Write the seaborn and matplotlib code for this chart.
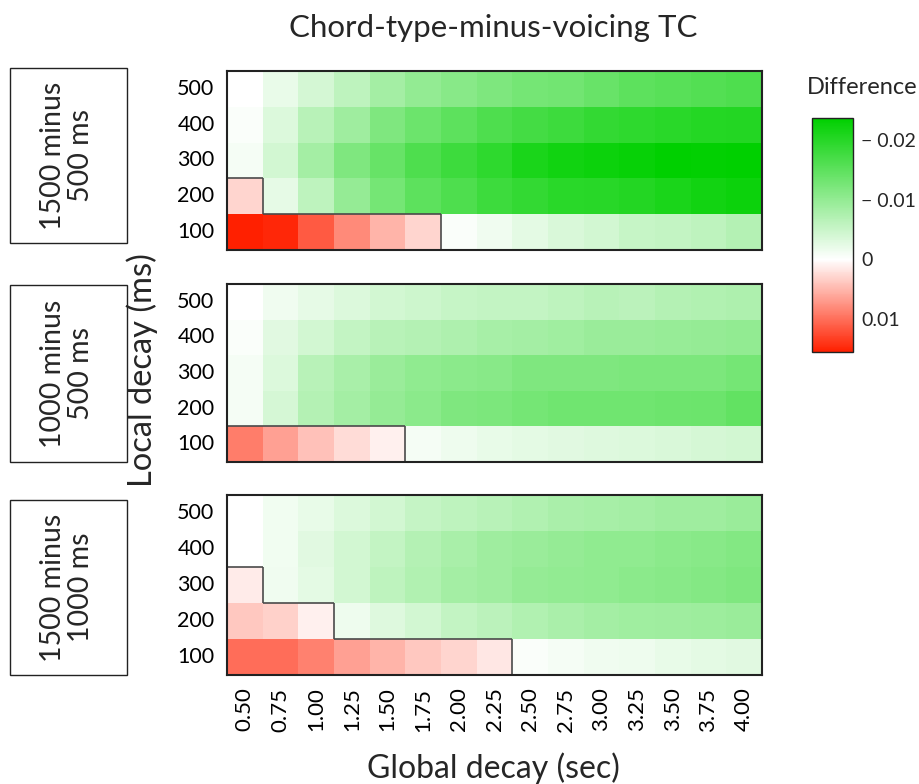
import numpy as np
import pandas as pd
import seaborn as sns
import matplotlib.pyplot as plt
from matplotlib.colors import LinearSegmentedColormap
from matplotlib.patches import Rectangle

# ---------------- data ----------------
global_decay = ["0.50", "0.75", "1.00", "1.25", "1.50", "1.75", "2.00", "2.25",
                "2.50", "2.75", "3.00", "3.25", "3.50", "3.75", "4.00"]
local_decay = [500, 400, 300, 200, 100]  # top to bottom

panel_labels = ["1500 minus\n500 ms", "1000 minus\n500 ms", "1500 minus\n1000 ms"]

diff_1500_500 = [
    [-0.0001, -0.0020, -0.0040, -0.0060, -0.0085, -0.0100, -0.0110, -0.0120, -0.0127, -0.0130, -0.0140, -0.0150, -0.0155, -0.0160, -0.0165],
    [-0.0005, -0.0033, -0.0066, -0.0090, -0.0118, -0.0136, -0.0150, -0.0165, -0.0174, -0.0180, -0.0188, -0.0193, -0.0198, -0.0202, -0.0204],
    [-0.0010, -0.0042, -0.0085, -0.0118, -0.0141, -0.0165, -0.0179, -0.0193, -0.0212, -0.0221, -0.0226, -0.0230, -0.0240, -0.0235, -0.0240],
    [0.0028, -0.0024, -0.0060, -0.0099, -0.0127, -0.0150, -0.0165, -0.0179, -0.0188, -0.0198, -0.0200, -0.0204, -0.0212, -0.0220, -0.0226],
    [0.0155, 0.0149, 0.0115, 0.0080, 0.0052, 0.0028, -0.0005, -0.0014, -0.0025, -0.0035, -0.0042, -0.0052, -0.0056, -0.0060, -0.0070],
]
diff_1000_500 = [
    [-0.0001, -0.0014, -0.0024, -0.0033, -0.0042, -0.0047, -0.0052, -0.0056, -0.0056, -0.0060, -0.0066, -0.0063, -0.0070, -0.0072, -0.0075],
    [-0.0005, -0.0028, -0.0042, -0.0056, -0.0066, -0.0070, -0.0075, -0.0082, -0.0085, -0.0088, -0.0094, -0.0094, -0.0097, -0.0099, -0.0101],
    [-0.0010, -0.0033, -0.0066, -0.0080, -0.0094, -0.0103, -0.0108, -0.0110, -0.0118, -0.0118, -0.0118, -0.0122, -0.0122, -0.0122, -0.0127],
    [-0.0010, -0.0038, -0.0070, -0.0085, -0.0099, -0.0108, -0.0118, -0.0122, -0.0127, -0.0132, -0.0132, -0.0132, -0.0135, -0.0136, -0.0146],
    [0.0090, 0.0066, 0.0042, 0.0024, 0.0010, -0.0010, -0.0016, -0.0022, -0.0025, -0.0028, -0.0031, -0.0033, -0.0035, -0.0038, -0.0042],
]
diff_1500_1000 = [
    [-0.0001, -0.0012, -0.0022, -0.0033, -0.0042, -0.0054, -0.0060, -0.0066, -0.0072, -0.0078, -0.0082, -0.0085, -0.0089, -0.0089, -0.0094],
    [-0.0001, -0.0012, -0.0028, -0.0042, -0.0056, -0.0070, -0.0080, -0.0089, -0.0094, -0.0099, -0.0103, -0.0103, -0.0108, -0.0110, -0.0115],
    [0.0014, -0.0014, -0.0025, -0.0042, -0.0060, -0.0072, -0.0085, -0.0089, -0.0099, -0.0101, -0.0103, -0.0108, -0.0110, -0.0113, -0.0118],
    [0.0038, 0.0031, 0.0010, -0.0016, -0.0031, -0.0042, -0.0056, -0.0063, -0.0072, -0.0078, -0.0085, -0.0088, -0.0089, -0.0091, -0.0094],
    [0.0100, 0.0100, 0.0087, 0.0066, 0.0052, 0.0038, 0.0028, 0.0016, -0.0005, -0.0010, -0.0014, -0.0016, -0.0022, -0.0025, -0.0028],
]
panels = [diff_1500_500, diff_1000_500, diff_1500_1000]

cbar_ticks = [-0.02, -0.01, 0, 0.01]
cbar_ticklabels = ["\u2212 0.02", "\u2212 0.01", "0", "0.01"]
vmin, vmax = -0.0237, 0.0155

# ---------------- style ----------------
sns.set_theme(style="white")
plt.rcParams["font.family"] = ["Lato", "DejaVu Sans"]

white_pos = (0 - vmin) / (vmax - vmin)
cmap = LinearSegmentedColormap.from_list(
    "gwr", [(0.0, (0 / 255, 208 / 255, 0)), (white_pos, (1, 1, 1)), (1.0, (1, 32 / 255, 0))])

fig = plt.figure(figsize=(9.19, 7.84), dpi=100)

W, H = 919, 784
def fx(px):
    return px / W
def fy(py):
    return 1 - py / H

ax_left, ax_right = 227, 762
panel_y = [(71, 250), (284, 462), (495, 675)]
box_y = [(68, 243), (285, 462), (500, 675)]

axes = []
for i, (data, (t, b)) in enumerate(zip(panels, panel_y)):
    ax = fig.add_axes([fx(ax_left), fy(b), fx(ax_right) - fx(ax_left), (b - t) / H])
    df = pd.DataFrame(data, index=local_decay, columns=global_decay)
    sns.heatmap(df, ax=ax, cmap=cmap, vmin=vmin, vmax=vmax, cbar=False,
                linewidths=0, square=False)
    arr = np.array(data)
    nr, nc = arr.shape
    pos = arr > 0
    # outline around positive region (internal edges)
    for r in range(nr):
        for c in range(nc):
            if not pos[r, c]:
                continue
            if c + 1 < nc and not pos[r, c + 1]:
                ax.plot([c + 1, c + 1], [r, r + 1], color="#4a4a4a", lw=1.2, solid_capstyle="butt")
            if r - 1 >= 0 and not pos[r - 1, c]:
                ax.plot([c, c + 1], [r, r], color="#4a4a4a", lw=1.2, solid_capstyle="butt")
            if c - 1 >= 0 and not pos[r, c - 1]:
                ax.plot([c, c], [r, r + 1], color="#4a4a4a", lw=1.2, solid_capstyle="butt")
            if r + 1 < nr and not pos[r + 1, c]:
                ax.plot([c, c + 1], [r + 1, r + 1], color="#4a4a4a", lw=1.2, solid_capstyle="butt")
    for sp in ax.spines.values():
        sp.set_visible(True)
        sp.set_color("#222222")
        sp.set_linewidth(1.5)
    ax.set_xlabel("")
    ax.set_ylabel("")
    ax.tick_params(axis="y", length=0, labelsize=15.5, colors="black", pad=9)
    ax.tick_params(axis="x", length=0, labelsize=16, colors="black", pad=9)
    ax.set_yticklabels([str(v) for v in local_decay], rotation=0)
    if i < 2:
        ax.set_xticklabels([])
    else:
        ax.set_xticklabels(global_decay, rotation=90)
    axes.append(ax)

    # left label box
    bt, bb = box_y[i]
    fig.patches.append(Rectangle((fx(10), fy(bb)), fx(127) - fx(10), (bb - bt) / H,
                                 transform=fig.transFigure, fill=False,
                                 edgecolor="#222222", lw=1.0))
    fig.text(fx(67), fy((bt + bb) / 2), panel_labels[i], rotation=90,
             ha="center", va="center", fontsize=20.5, linespacing=1.05)

# colorbar
cax = fig.add_axes([fx(812), fy(352), fx(853) - fx(812), (352 - 118) / H])
cb = fig.colorbar(axes[0].collections[0], cax=cax)
cax.invert_yaxis()
cb.set_ticks(cbar_ticks)
cb.set_ticklabels(cbar_ticklabels)
cb.outline.set_edgecolor("#222222")
cb.outline.set_linewidth(1.0)
cax.tick_params(direction="in", left=True, right=True, length=5, width=1,
                color="#333333", labelsize=14, pad=6)
fig.text(fx(862), fy(88), "Difference", ha="center", va="center", fontsize=17)

fig.text(fx(493), fy(28), "Chord-type-minus-voicing TC", ha="center", va="center", fontsize=22.5)
fig.text(fx(493), fy(768), "Global decay (sec)", ha="center", va="center", fontsize=23)
fig.text(fx(142), fy(370), "Local decay (ms)", ha="center", va="center", fontsize=23.5, rotation=90)

fig.savefig("out.png", dpi=100)
